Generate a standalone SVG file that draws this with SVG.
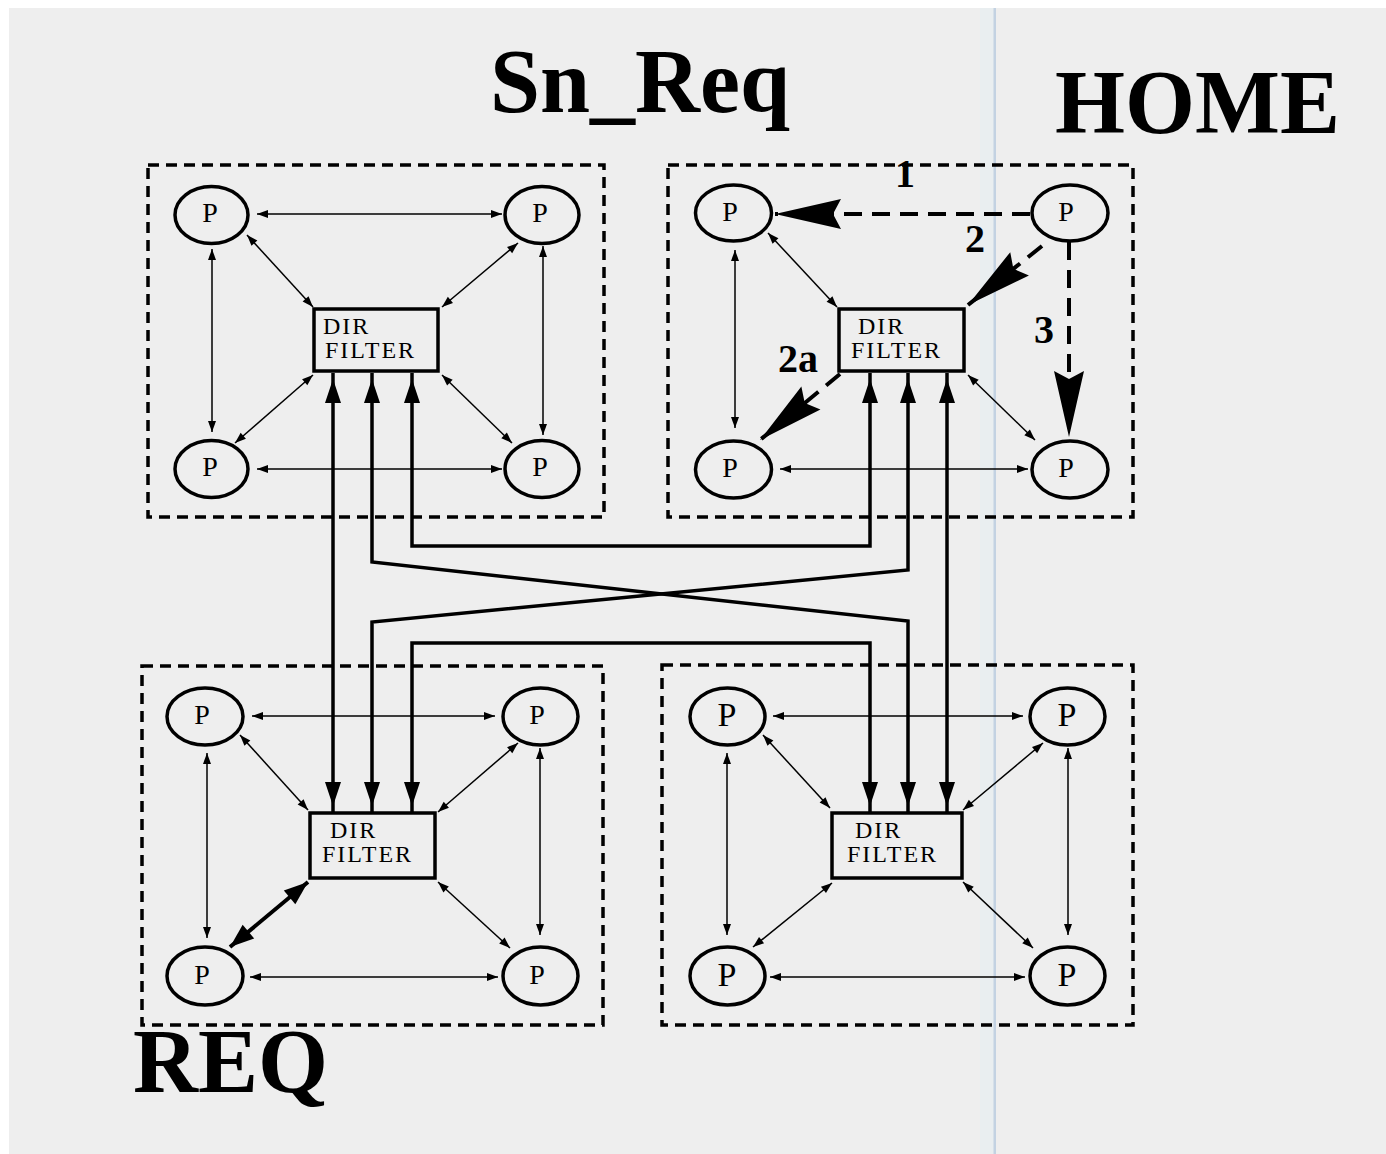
<svg xmlns="http://www.w3.org/2000/svg" width="1386" height="1154" viewBox="0 0 1386 1154">
<style>
.title{font-family:"Liberation Serif","Times New Roman",serif;font-weight:bold;font-size:90px;fill:#000}
.lbl{font-family:"Liberation Serif","Times New Roman",serif;font-weight:bold;font-size:40px;fill:#000;text-anchor:middle}
.p{font-family:"Liberation Serif","Times New Roman",serif;font-size:28px;fill:#000;text-anchor:middle}
.pb{font-family:"Liberation Serif","Times New Roman",serif;font-size:34px;fill:#000;text-anchor:middle}
.df{font-family:"Liberation Serif","Times New Roman",serif;font-size:24px;letter-spacing:2px;fill:#000}
.ell{fill:none;stroke:#000;stroke-width:3.5}
.box{fill:none;stroke:#000;stroke-width:3.5}
.frame{fill:none;stroke:#000;stroke-width:3.5;stroke-dasharray:11 7}
.thin{fill:none;stroke:#000;stroke-width:1.5;marker-start:url(#sm);marker-end:url(#sm)}
.thick{fill:none;stroke:#000;stroke-width:3.5;marker-start:url(#tm);marker-end:url(#tm)}
.bold2{fill:none;stroke:#000;stroke-width:4;marker-start:url(#bm);marker-end:url(#bm)}
.dash{fill:none;stroke:#000;stroke-width:4;stroke-dasharray:18 10;marker-end:url(#big)}
</style>
<defs>
<marker id="sm" markerUnits="userSpaceOnUse" markerWidth="12" markerHeight="8" refX="11" refY="4" orient="auto-start-reverse" overflow="visible"><path d="M0,0 L11,4 L0,8 z" fill="#000"/></marker>
<marker id="tm" markerUnits="userSpaceOnUse" markerWidth="30" markerHeight="16" refX="30" refY="8" orient="auto-start-reverse" overflow="visible"><path d="M0,0 L24,8 L0,16 z" fill="#000"/></marker>
<marker id="bm" markerUnits="userSpaceOnUse" markerWidth="24" markerHeight="18" refX="24" refY="9" orient="auto-start-reverse" overflow="visible"><path d="M0,0 L24,9 L0,18 z" fill="#000"/></marker>
<marker id="big" markerUnits="userSpaceOnUse" markerWidth="66" markerHeight="30" refX="66" refY="15" orient="auto" overflow="visible"><path d="M0,0 L66,15 L0,30 L8,15 z" fill="#000"/></marker>
</defs>
<rect x="0" y="0" width="1386" height="1154" fill="#ffffff"/>
<rect x="9" y="8" width="1377" height="1146" fill="#eeeeee"/>
<rect x="980" y="8" width="14" height="1146" fill="#e9eef0"/>
<rect x="993.5" y="8" width="2.5" height="1146" fill="#c3d2e2"/>

<g id="titles">
<text class="title" x="490" y="112">Sn_Req</text>
<text class="title" x="1055" y="133">HOME</text>
<text class="title" x="133" y="1092">REQ</text>
</g>

<g id="frames">
<rect class="frame" x="148" y="165" width="456" height="352"/>
<rect class="frame" x="668" y="165" width="465" height="352"/>
<rect class="frame" x="142" y="666" width="461" height="359"/>
<rect class="frame" x="662" y="665" width="471" height="360"/>
</g>

<g id="connectors">
<!-- Q1 -->
<line class="thin" x1="257" y1="214" x2="502" y2="214"/>
<line class="thin" x1="212" y1="249" x2="212" y2="432"/>
<line class="thin" x1="543" y1="246" x2="543" y2="435"/>
<line class="thin" x1="247" y1="235" x2="313" y2="307"/>
<line class="thin" x1="518" y1="243" x2="442" y2="307"/>
<line class="thin" x1="313" y1="375" x2="235" y2="443"/>
<line class="thin" x1="442" y1="375" x2="512" y2="443"/>
<line class="thin" x1="257" y1="469" x2="502" y2="469"/>
<!-- Q2 -->
<line class="thin" x1="735" y1="250" x2="735" y2="428"/>
<line class="thin" x1="768" y1="233" x2="837" y2="307"/>
<line class="thin" x1="968" y1="375" x2="1035" y2="440"/>
<line class="thin" x1="780" y1="469" x2="1028" y2="469"/>
<!-- Q3 -->
<line class="thin" x1="252" y1="716" x2="495" y2="716"/>
<line class="thin" x1="207" y1="753" x2="207" y2="938"/>
<line class="thin" x1="540" y1="748" x2="540" y2="935"/>
<line class="thin" x1="240" y1="735" x2="308" y2="810"/>
<line class="thin" x1="518" y1="743" x2="438" y2="812"/>
<line class="bold2" x1="308" y1="882" x2="230" y2="947"/>
<line class="thin" x1="438" y1="882" x2="510" y2="948"/>
<line class="thin" x1="250" y1="977" x2="498" y2="977"/>
<!-- Q4 -->
<line class="thin" x1="773" y1="716" x2="1023" y2="716"/>
<line class="thin" x1="727" y1="753" x2="727" y2="935"/>
<line class="thin" x1="1068" y1="748" x2="1068" y2="935"/>
<line class="thin" x1="763" y1="735" x2="830" y2="808"/>
<line class="thin" x1="1043" y1="743" x2="963" y2="810"/>
<line class="thin" x1="832" y1="883" x2="753" y2="947"/>
<line class="thin" x1="963" y1="882" x2="1033" y2="948"/>
<line class="thin" x1="770" y1="977" x2="1025" y2="977"/>
<!-- inter-cluster thick links -->
<path class="thick" d="M333,373 L333,812"/>
<path class="thick" d="M372,373 L372,562 L908,621 L908,812"/>
<path class="thick" d="M412,373 L412,546 L870,546 L870,373"/>
<path class="thick" d="M908,373 L908,570 L372,622 L372,812"/>
<path class="thick" d="M412,812 L412,643 L870,643 L870,812"/>
<path class="thick" d="M947,373 L947,812"/>
<!-- numbered dashed arrows -->
<path class="dash" d="M1030,214 L775,214"/>
<path class="dash" d="M1042,246 L968,305"/>
<path class="dash" d="M1069,242 L1069,437"/>
<path class="dash" d="M840,374 L760,440"/>
</g>

<g id="labels">
<text class="lbl" x="905" y="187">1</text>
<text class="lbl" x="975" y="252">2</text>
<text class="lbl" x="1044" y="343">3</text>
<text class="lbl" x="798" y="372">2a</text>
</g>

<g id="q1">
<g id="q1-p1"><ellipse class="ell" cx="211.5" cy="215" rx="36.5" ry="28.5"/><text class="p" x="210" y="222">P</text></g>
<g id="q1-p2"><ellipse class="ell" cx="542" cy="215" rx="37" ry="28.5"/><text class="p" x="540" y="222">P</text></g>
<g id="q1-p3"><ellipse class="ell" cx="211.5" cy="469" rx="36.5" ry="28.5"/><text class="p" x="210" y="476">P</text></g>
<g id="q1-p4"><ellipse class="ell" cx="542" cy="469" rx="37" ry="28.5"/><text class="p" x="540" y="476">P</text></g>
<g id="q1-dir"><rect class="box" x="314" y="309" width="124" height="62"/><text class="df" x="323" y="334">DIR</text><text class="df" x="325" y="358">FILTER</text></g>
</g>

<g id="q2">
<g id="q2-p1"><ellipse class="ell" cx="733.5" cy="213" rx="38" ry="28"/><text class="p" x="730" y="221">P</text></g>
<g id="q2-p2"><ellipse class="ell" cx="1070" cy="213" rx="38" ry="28"/><text class="p" x="1066" y="221">P</text></g>
<g id="q2-p3"><ellipse class="ell" cx="733.5" cy="469.5" rx="38" ry="28.5"/><text class="p" x="730" y="477">P</text></g>
<g id="q2-p4"><ellipse class="ell" cx="1070" cy="469.5" rx="38" ry="28.5"/><text class="p" x="1066" y="477">P</text></g>
<g id="q2-dir"><rect class="box" x="839" y="309" width="125" height="62"/><text class="df" x="858" y="334">DIR</text><text class="df" x="851" y="358">FILTER</text></g>
</g>

<g id="q3">
<g id="q3-p1"><ellipse class="ell" cx="205" cy="716.5" rx="38" ry="28.5"/><text class="p" x="202" y="724">P</text></g>
<g id="q3-p2"><ellipse class="ell" cx="540.5" cy="716.5" rx="37.5" ry="28.5"/><text class="p" x="537" y="724">P</text></g>
<g id="q3-p3"><ellipse class="ell" cx="205" cy="976" rx="38" ry="29"/><text class="p" x="202" y="984">P</text></g>
<g id="q3-p4"><ellipse class="ell" cx="540.5" cy="976" rx="37.5" ry="29"/><text class="p" x="537" y="984">P</text></g>
<g id="q3-dir"><rect class="box" x="310" y="813" width="125" height="65"/><text class="df" x="330" y="838">DIR</text><text class="df" x="322" y="862">FILTER</text></g>
</g>

<g id="q4">
<g id="q4-p1"><ellipse class="ell" cx="727.5" cy="716.5" rx="37.5" ry="28.5"/><text class="pb" x="727" y="726">P</text></g>
<g id="q4-p2"><ellipse class="ell" cx="1067.5" cy="716.5" rx="37.5" ry="28.5"/><text class="pb" x="1067" y="726">P</text></g>
<g id="q4-p3"><ellipse class="ell" cx="727.5" cy="976" rx="37.5" ry="29"/><text class="pb" x="727" y="986">P</text></g>
<g id="q4-p4"><ellipse class="ell" cx="1067.5" cy="976" rx="37.5" ry="29"/><text class="pb" x="1067" y="986">P</text></g>
<g id="q4-dir"><rect class="box" x="832" y="813" width="130" height="65"/><text class="df" x="855" y="838">DIR</text><text class="df" x="847" y="862">FILTER</text></g>
</g>
</svg>
